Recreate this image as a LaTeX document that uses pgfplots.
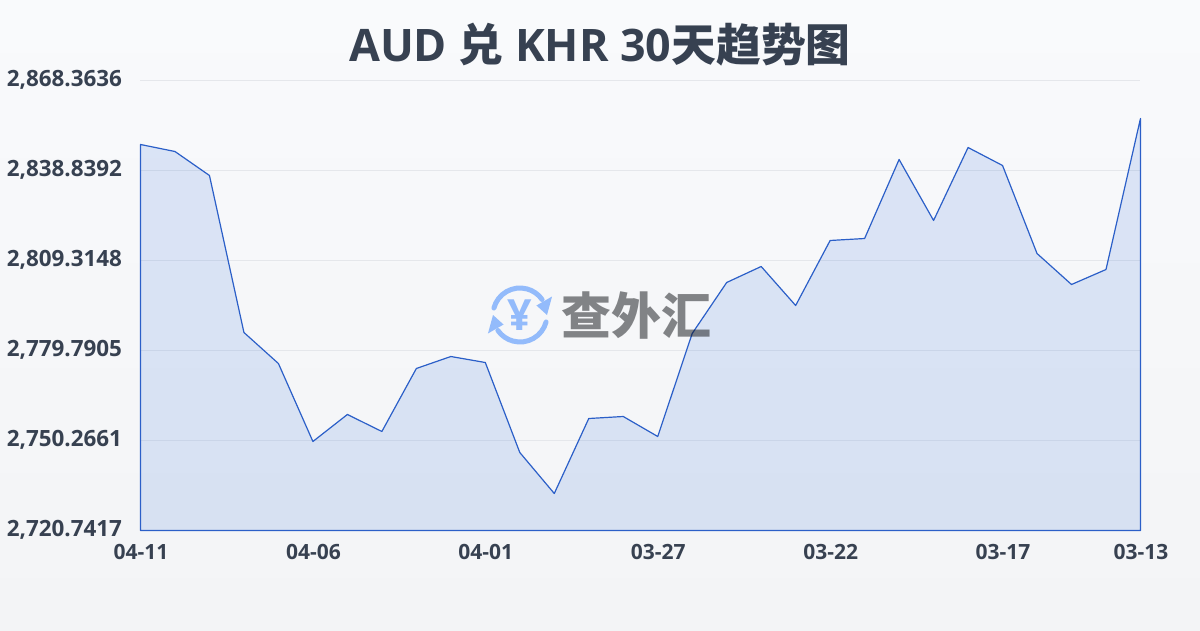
\documentclass[border=0pt]{standalone}
\usepackage{fontspec}
\setmainfont{Open Sans}[BoldFont={Open Sans Bold}]
\newfontfamily\cjk{Noto Sans CJK SC}
\usepackage{pgfplots}
\pgfplotsset{compat=1.18}
\usepackage{pgfplotstable}
\definecolor{ink}{HTML}{374151}
\definecolor{lineblue}{HTML}{2B5FC8}
\definecolor{areablue}{HTML}{3571DC}
\definecolor{gridc}{HTML}{E5E7EB}
\definecolor{iconc}{HTML}{93BBFB}
\definecolor{bgtop}{HTML}{F9FAFC}
\definecolor{bgbot}{HTML}{F3F4F6}
\pgfplotstableread{
x y
0 2847.37
1 2845.07
2 2837.20
3 2785.70
4 2775.52
5 2749.94
6 2758.80
7 2753.22
8 2773.89
9 2777.82
10 2775.85
11 2746.33
12 2732.88
13 2757.48
14 2758.14
15 2751.58
16 2785.37
17 2802.10
18 2807.35
19 2794.55
20 2815.88
21 2816.53
22 2842.45
23 2822.44
24 2846.38
25 2840.48
26 2811.61
27 2801.44
28 2806.36
29 2855.90
}\rates
\begin{document}
\begin{tikzpicture}[x=1pt,y=1pt]
\shade[top color=bgtop,bottom color=bgbot,draw=none] (-140,-100) rectangle (1060,530);
\begin{axis}[
  at={(0.5pt,-0.5pt)},anchor=south west,
  scale only axis,width=1000pt,height=450pt,
  xmin=0,xmax=29,
  ymin=2720.7417,ymax=2868.3636,
  clip=false,
  axis line style={draw=none},
  xtick={0,5,10,15,20,25,29},
  xticklabels={04-11,04-06,04-01,03-27,03-22,03-17,03-13},
  ytick={2720.7417,2750.2661,2779.7905,2809.3148,2838.8392,2868.3636},
  yticklabels={{2,720.7417},{2,750.2661},{2,779.7905},{2,809.3148},{2,838.8392},{2,868.3636}},
  ymajorgrids,
  grid style={gridc,line width=1pt},
  major tick length=0pt,
  xticklabel style={font=\bfseries\fontsize{21}{24}\selectfont,text=ink,yshift=-10pt,xshift=0.5pt},
  yticklabel style={font=\bfseries\fontsize{22.4}{26}\selectfont,text=ink,xshift=-15pt,yshift=0.5pt},
]
\addplot[draw=lineblue,line width=1.2pt,fill=areablue,fill opacity=0.15,line join=round] table[x=x,y=y]{\rates} \closedcycle;
\end{axis}
% title
\node[text=ink,font=\bfseries\fontsize{44.8}{50}\selectfont] at (460,485) {AUD {\cjk 兑} KHR 30{\cjk 天趋势图}};
% watermark
\begin{scope}[shift={(380,215)}]
  \draw[iconc,line width=5pt,line cap=round] (165:27) arc (165:35:27);
  \fill[iconc] (30:19) -- (30:37) -- (0:27) -- cycle;
  \draw[iconc,line width=5pt,line cap=round] (-15:27) arc (-15:-145:27);
  \fill[iconc] (210:19) -- (210:37) -- (180:27) -- cycle;
  \node[text=iconc,font=\bfseries\fontsize{43}{45}\selectfont] at (0,0) {¥};
\end{scope}
\node[text=black!75!ink,opacity=0.5,font=\cjk\bfseries\fontsize{50}{54}\selectfont] at (496,215) {查外汇};
\end{tikzpicture}
\end{document}
